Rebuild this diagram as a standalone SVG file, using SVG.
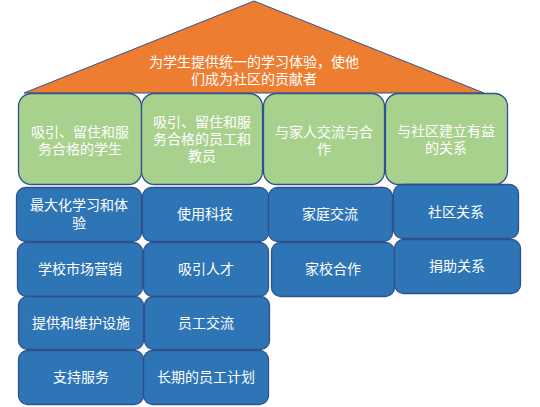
<svg xmlns="http://www.w3.org/2000/svg" width="540" height="407" viewBox="0 0 540 407">
<style>
.roof{fill:#ED7D31;stroke:#2F528F;stroke-width:1}
.g{fill:#A9D18E;stroke:#2F528F;stroke-width:1.3}
.b{fill:#2E75B6;stroke:#2F528F;stroke-width:1.3}
text{font-family:"Liberation Sans","Noto Sans CJK SC",sans-serif;font-size:14px;fill:#fff;text-anchor:middle}
</style>
<rect width="540" height="407" fill="#fff"/>
<g id="roof"><polygon class="roof" points="254,1 24,93 484,93"/>
<text x="254" y="67">为学生提供统一的学习体验，使他</text>
<text x="254" y="84">们成为社区的贡献者</text></g>
<g id="g1"><rect class="g" x="18.5" y="93.5" width="123" height="91" rx="13"/><text x="80" y="137">吸引、留住和服</text><text x="80" y="154">务合格的学生</text></g>
<g id="g2"><rect class="g" x="141.5" y="93.5" width="121" height="91" rx="13"/><text x="202" y="127">吸引、留住和服</text><text x="202" y="144">务合格的员工和</text><text x="202" y="161">教员</text></g>
<g id="g3"><rect class="g" x="263.5" y="93.5" width="121" height="91" rx="13"/><text x="324" y="137">与家人交流与合</text><text x="324" y="154">作</text></g>
<g id="g4"><rect class="g" x="385.5" y="93.5" width="122" height="91" rx="13"/><text x="446" y="136">与社区建立有益</text><text x="446" y="153">的关系</text></g>
<g id="b11"><rect class="b" x="16.5" y="187.5" width="125" height="54" rx="9"/><text x="79" y="210">最大化学习和体</text><text x="79" y="228">验</text></g>
<g id="b12"><rect class="b" x="17.5" y="242.5" width="125" height="54" rx="9"/><text x="80" y="274">学校市场营销</text></g>
<g id="b13"><rect class="b" x="18.5" y="296.5" width="125" height="53" rx="9"/><text x="81" y="328">提供和维护设施</text></g>
<g id="b14"><rect class="b" x="18.5" y="350.5" width="125" height="54" rx="9"/><text x="81" y="382">支持服务</text></g>
<g id="b21"><rect class="b" x="142.5" y="187.5" width="126" height="54" rx="9"/><text x="205" y="219">使用科技</text></g>
<g id="b22"><rect class="b" x="143.5" y="242.5" width="125" height="54" rx="9"/><text x="206" y="274">吸引人才</text></g>
<g id="b23"><rect class="b" x="144.5" y="296.5" width="125" height="53" rx="9"/><text x="206" y="328">员工交流</text></g>
<g id="b24"><rect class="b" x="143.5" y="350.5" width="125" height="54" rx="9"/><text x="206" y="382">长期的员工计划</text></g>
<g id="b31"><rect class="b" x="268.5" y="187.5" width="124" height="54" rx="9"/><text x="330" y="219">家庭交流</text></g>
<g id="b32"><rect class="b" x="271.5" y="242.5" width="123" height="54" rx="9"/><text x="333" y="274">家校合作</text></g>
<g id="b41"><rect class="b" x="393.5" y="184.5" width="125" height="54" rx="9"/><text x="456" y="217">社区关系</text></g>
<g id="b42"><rect class="b" x="394.5" y="239.5" width="126" height="54" rx="9"/><text x="457" y="271">捐助关系</text></g>
</svg>
